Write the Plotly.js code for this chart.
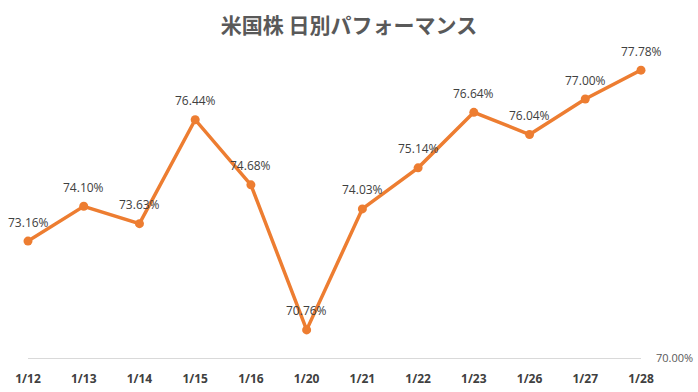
<!DOCTYPE html>
<html><head><meta charset="utf-8">
<script src="https://cdn.plot.ly/plotly-3.0.1.min.js"></script>
<style>html,body{margin:0;padding:0;background:#fff}#c{width:698px;height:392px}</style>
</head><body><div id="c"></div>
<script>
const categories = ["1/12","1/13","1/14","1/15","1/16","1/20","1/21","1/22","1/23","1/26","1/27","1/28"];
const values = [73.16,74.10,73.63,76.44,74.68,70.76,74.03,75.14,76.64,76.04,77.00,77.78];
const yTickVals = [70];
const yTickText = ["70.00%"];
const titleText = "米国株 日別パフォーマンス";

const labelFont = {family: "Open Sans, Liberation Sans, sans-serif", size: 12, color: "#404040"};
const annotations = categories.map((c, i) => ({
  x: c, y: values[i], xref: "x", yref: "y", text: values[i].toFixed(2) + "%",
  showarrow: false, yshift: 19, font: labelFont
}));
Plotly.newPlot("c", [{
  x: categories, y: values, type: "scatter", mode: "lines+markers",
  line: {color: "#ED7D31", width: 3.5},
  marker: {color: "#ED7D31", size: 9},
  cliponaxis: false, hoverinfo: "none"
}], {
  width: 698, height: 392,
  margin: {l: 28, r: 57, t: 62, b: 34},
  paper_bgcolor: "#fff", plot_bgcolor: "#fff",
  showlegend: false,
  annotations: annotations,
  title: {text: titleText, x: 0.5, xanchor: "center", y: 0.935, yanchor: "middle",
    font: {family: "Noto Sans CJK JP, sans-serif", size: 21, color: "#595959", weight: "bold"}},
  xaxis: {type: "category", range: [0, 11], showgrid: false, zeroline: false,
    showline: true, linecolor: "#d9d9d9", linewidth: 1, ticks: "", ticklabelstandoff: 10,
    tickfont: {family: "Open Sans, Liberation Sans, sans-serif", size: 12, color: "#404040", weight: "bold"}},
  yaxis: {side: "right", range: [70, 78], showgrid: false, zeroline: false, showline: false,
    tickvals: yTickVals, ticktext: yTickText, ticks: "", ticklabelstandoff: 14,
    tickfont: {family: "Open Sans, Liberation Sans, sans-serif", size: 11, color: "#595959"}}
}, {staticPlot: true});
</script></body></html>
